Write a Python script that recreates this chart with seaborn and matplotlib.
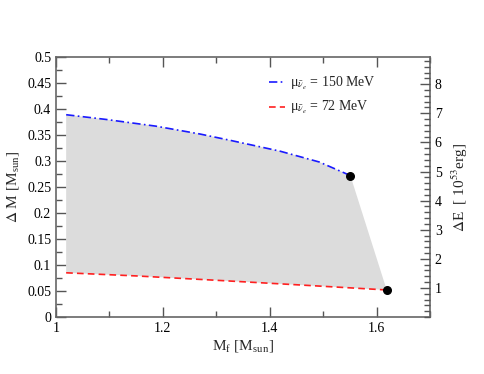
import numpy as np
import pandas as pd
import matplotlib
matplotlib.use('Agg')
import matplotlib.pyplot as plt
from matplotlib.ticker import MultipleLocator
import seaborn as sns

# ── Data ─────────────────────────────────────────────────────────────────────
mf_150 = [1.019, 1.093, 1.187, 1.269, 1.325, 1.419, 1.493, 1.551]
dm_150 = [0.389, 0.380, 0.367, 0.352, 0.340, 0.319, 0.298, 0.272]

mf_72 = [1.019, 1.150, 1.311, 1.450, 1.619]
dm_72 = [0.085, 0.079, 0.070, 0.062, 0.052]

end_mf = [1.551, 1.619]
end_dm = [0.272, 0.052]

labels = [u'\u03bc$_{\\bar{\\nu}_e}$ = 150 MeV', u'\u03bc$_{\\bar{\\nu}_e}$ = 72 MeV']

# M_sun c^2 in units of 1e53 erg
MSUN_C2 = 17.87

sns.set_style('ticks')
plt.rcParams['font.family'] = ['Liberation Serif', 'DejaVu Serif']
plt.rcParams['mathtext.fontset'] = 'stix'

fig = plt.figure(figsize=(4.84, 3.74), dpi=100)
ax = fig.add_axes([0.1157, 0.1524, 0.7727, 0.6952])

# shaded region between the two curves
poly_x = mf_150 + mf_72[::-1]
poly_y = dm_150 + dm_72[::-1]
ax.fill(poly_x, poly_y, color='#dcdcdc', lw=0, zorder=1)

df150 = pd.DataFrame({'mf': mf_150, 'dm': dm_150})
df72 = pd.DataFrame({'mf': mf_72, 'dm': dm_72})
sns.lineplot(data=df150, x='mf', y='dm', ax=ax, color='#1a1aff', lw=1.2,
             linestyle=(0, (5, 2, 1, 2)), label=labels[0], zorder=3)
sns.lineplot(data=df72, x='mf', y='dm', ax=ax, color='#ff2020', lw=1.2,
             linestyle=(0, (4, 2.5)), label=labels[1], zorder=3)
ax.scatter(end_mf, end_dm, s=30, color='black', zorder=4)

ax.set_xlim(1.0, 1.7)
ax.set_ylim(0, 0.5)
ax.xaxis.set_major_locator(MultipleLocator(0.2))
ax.xaxis.set_minor_locator(MultipleLocator(0.1))
ax.yaxis.set_major_locator(MultipleLocator(0.05))
ax.yaxis.set_minor_locator(MultipleLocator(0.025))
ax.set_xticks([1.0, 1.2, 1.4, 1.6])
ax.set_xticklabels(['1', '1.2', '1.4', '1.6'])
ax.set_yticks(np.arange(0, 0.51, 0.05))
ax.set_yticklabels(['0', '0.05', '0.1', '0.15', '0.2', '0.25', '0.3',
                    '0.35', '0.4', '0.45', '0.5'])

ax.tick_params(which='both', direction='in', top=True, right=False,
               colors='#555555', labelcolor='black', labelsize=10)
ax.tick_params(which='major', length=7, width=1)
ax.tick_params(which='minor', length=4, width=1)
for s in ax.spines.values():
    s.set_color('#666666')
    s.set_linewidth(1.2)

ax.set_xlabel(r'M$_\mathregular{f}$ [M$_\mathregular{sun}$]', fontsize=11, labelpad=2)
ax.set_ylabel(r'$\Delta$ M [M$_\mathregular{sun}$]', fontsize=11, labelpad=4)

# secondary energy axis
ax2 = ax.twinx()
ax2.set_ylim(0, 0.5 * MSUN_C2)
ax2.yaxis.set_major_locator(MultipleLocator(1))
ax2.yaxis.set_minor_locator(MultipleLocator(0.2))
ax2.set_yticks(range(1, 9))
ax2.tick_params(which='both', direction='in', colors='#555555',
                labelcolor='black', labelsize=10)
ax2.tick_params(which='major', length=7, width=1)
ax2.tick_params(which='minor', length=4, width=1)
for s in ax2.spines.values():
    s.set_visible(False)
ax2.set_ylabel(r'$\Delta$E  [ 10$^{53}$erg]', fontsize=11, labelpad=6)

leg = ax.legend(loc='upper left', bbox_to_anchor=(0.535, 0.98), frameon=False,
                fontsize=10, handlelength=1.2, handletextpad=0.35,
                labelspacing=0.55)

fig.savefig('out.png', dpi=100)
